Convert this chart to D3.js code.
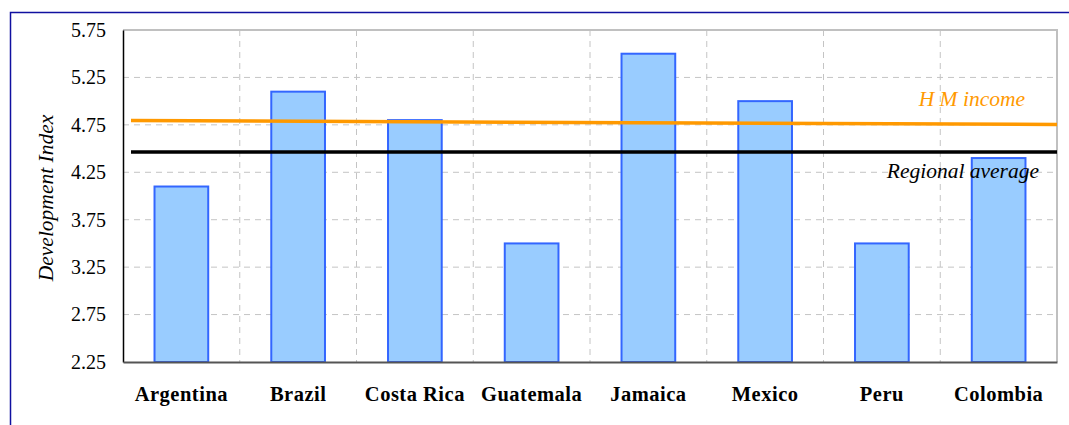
<!DOCTYPE html>
<html>
<head>
<meta charset="UTF-8">
<title>Development Index</title>
<script src="https://cdnjs.cloudflare.com/ajax/libs/d3/7.8.5/d3.min.js"></script>
<style>
  body { margin: 0; background: #fff; }
  text { font-family: "Liberation Serif", "Times New Roman", serif; }
</style>
</head>
<body>
<svg id="chart" width="1069" height="425"></svg>
<script>
// chart data
var countries = ["Argentina", "Brazil", "Costa Rica", "Guatemala", "Jamaica", "Mexico", "Peru", "Colombia"];
var indexValues = [4.1, 5.1, 4.8, 3.5, 5.5, 5.0, 3.5, 4.4];
var yTicks = [2.25, 2.75, 3.25, 3.75, 4.25, 4.75, 5.25, 5.75];
// reference lines: value at left end, value at right end
var hmIncome = [4.795, 4.755];
var regionalAvg = [4.465, 4.465];

var svg = d3.select("#chart");

// plot area (don't call it "top", that's window.top)
var plot = { left: 123, right: 1057, top: 30, bottom: 362 };

var x = d3.scaleBand().domain(countries).range([plot.left, plot.right]);
var y = d3.scaleLinear().domain([2.25, 5.75]).range([plot.bottom, plot.top]);

// outer frame (runs off the page on the right and bottom)
svg.append("rect")
    .attr("x", 10.5).attr("y", 12.5)
    .attr("width", 1100).attr("height", 500)
    .attr("fill", "none").attr("stroke", "#1010a0").attr("stroke-width", 1.5);

// horizontal grid
svg.append("g")
    .selectAll("line")
    .data(yTicks.slice(1, -1))
    .join("line")
    .attr("x1", plot.left).attr("x2", plot.right)
    .attr("y1", d => y(d)).attr("y2", d => y(d))
    .attr("stroke", "#c4c4c4").attr("stroke-width", 1)
    .attr("stroke-dasharray", "6,5");

// vertical grid at category boundaries
svg.append("g")
    .selectAll("line")
    .data(countries.slice(1))
    .join("line")
    .attr("x1", d => x(d)).attr("x2", d => x(d))
    .attr("y1", plot.top).attr("y2", plot.bottom)
    .attr("stroke", "#c4c4c4").attr("stroke-width", 1)
    .attr("stroke-dasharray", "6,5");

// top and right borders of plot
svg.append("path")
    .attr("d", "M" + plot.left + "," + plot.top + "H" + plot.right + "V" + plot.bottom)
    .attr("fill", "none").attr("stroke", "#c0c0c0").attr("stroke-width", 2);

// bars
var barW = x.bandwidth() * 0.46;
svg.append("g")
    .selectAll("rect")
    .data(countries)
    .join("rect")
    .attr("x", d => x(d) + (x.bandwidth() - barW) / 2)
    .attr("y", (d, i) => y(indexValues[i]))
    .attr("width", barW)
    .attr("height", (d, i) => plot.bottom - y(indexValues[i]))
    .attr("fill", "#99ccff")
    .attr("stroke", "#3366ff")
    .attr("stroke-width", 2);

// reference lines
var lineStart = 131;
svg.append("line")
    .attr("x1", lineStart).attr("x2", plot.right)
    .attr("y1", y(hmIncome[0])).attr("y2", y(hmIncome[1]))
    .attr("stroke", "#ff9900").attr("stroke-width", 3.5);
svg.append("line")
    .attr("x1", lineStart).attr("x2", plot.right)
    .attr("y1", y(regionalAvg[0])).attr("y2", y(regionalAvg[1]))
    .attr("stroke", "#000").attr("stroke-width", 3.5);

svg.append("text")
    .attr("x", 1025).attr("y", 106)
    .attr("text-anchor", "end")
    .attr("font-size", 21.5).attr("font-style", "italic")
    .attr("fill", "#ff9900")
    .text("H M income");
svg.append("text")
    .attr("x", 1039).attr("y", 178)
    .attr("text-anchor", "end")
    .attr("font-size", 21.5).attr("font-style", "italic")
    .attr("fill", "#000")
    .text("Regional average");

// axes
var yAxis = svg.append("g")
    .attr("transform", "translate(" + plot.left + ",0)")
    .call(d3.axisLeft(y).tickValues(yTicks).tickSize(0).tickPadding(17).tickFormat(d3.format(".2f")));
yAxis.select(".domain").attr("stroke", "#000").attr("stroke-width", 1.5);
yAxis.selectAll("text")
    .attr("font-size", 20).attr("fill", "#000")
    .style("font-family", "Liberation Serif, serif");

var xAxis = svg.append("g")
    .attr("transform", "translate(0," + plot.bottom + ")")
    .call(d3.axisBottom(x).tickSize(0).tickPadding(24));
xAxis.select(".domain").attr("stroke", "#555").attr("stroke-width", 2);
xAxis.selectAll("text")
    .attr("font-size", 20.5).attr("font-weight", "bold").attr("fill", "#000")
    .attr("letter-spacing", 0.5)
    .style("font-family", "Liberation Serif, serif");

// y axis title
svg.append("text")
    .attr("transform", "translate(53,198) rotate(-90)")
    .attr("text-anchor", "middle")
    .attr("font-size", 21.5).attr("font-style", "italic")
    .text("Development Index");
</script>
</body>
</html>
